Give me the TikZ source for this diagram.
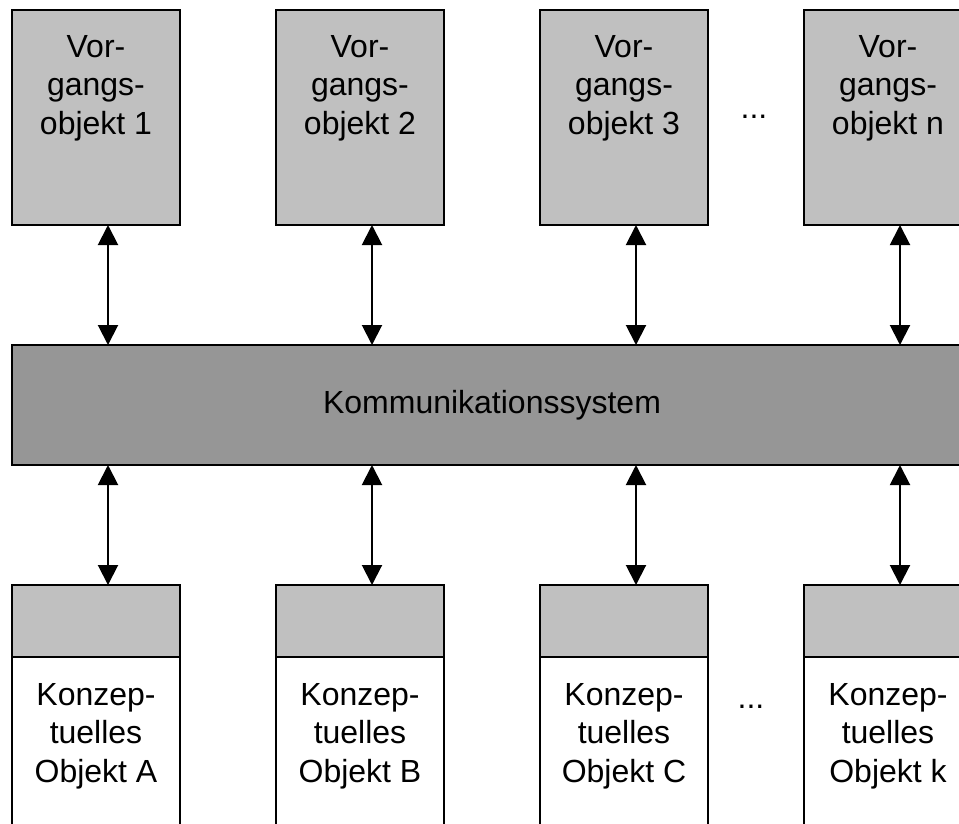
\documentclass[tikz,border=0pt]{standalone}
\usepackage{fontspec}
\setmainfont{Liberation Sans}
\usetikzlibrary{arrows.meta}
\definecolor{boxgray}{RGB}{192,192,192}
\definecolor{bargray}{RGB}{150,150,150}
\begin{document}
\begin{tikzpicture}[x=1pt,y=-1pt,
  frame/.style={draw=black,line width=2pt,inner sep=0pt,outer sep=0pt,anchor=north west},
  vorgang/.style={frame,fill=boxgray,minimum width=168pt,minimum height=215pt},
  konzept/.style={frame,fill=white,minimum width=168pt,minimum height=270pt},
  kopf/.style={frame,fill=boxgray,minimum width=168pt,minimum height=72pt},
  bus/.style={frame,fill=bargray,minimum width=960pt,minimum height=120pt},
  boxtext/.style={inner sep=0pt,align=center,font=\fontsize{32}{38.5}\selectfont},
  link/.style={line width=2pt,{Triangle[width=20pt,length=20pt]}-{Triangle[width=20pt,length=20pt]}}
]
\useasboundingbox (0,0) rectangle (959,823);
\clip (0,0) rectangle (959,823);

% process objects (top row)
\node[vorgang] (v1) at (12,10) {};
\node[vorgang] (v2) at (276,10) {};
\node[vorgang] (v3) at (540,10) {};
\node[vorgang] (v4) at (804,10) {};
\node[boxtext,anchor=north] (tv1) at (96,35) {Vor-\\gangs-\\objekt 1};
\node[boxtext,anchor=north] (tv2) at (360,35) {Vor-\\gangs-\\objekt 2};
\node[boxtext,anchor=north] (tv3) at (624,35) {Vor-\\gangs-\\objekt 3};
\node[boxtext,anchor=north] (tv4) at (888,35) {Vor-\\gangs-\\objekt n};
\node[boxtext,anchor=base] (dotsv) at (754,118) {...};

% communication bus
\node[bus] (bar) at (12,345) {};
\node[boxtext] (tbar) at (bar.center) {Kommunikationssystem};

% conceptual objects (bottom row)
\foreach \i/\x in {1/12,2/276,3/540,4/804}{
  \node[konzept] (k\i) at (\x,585) {};
  \node[kopf] (h\i) at (\x,585) {};
}
\node[boxtext,anchor=north] (tk1) at (96,683) {Konzep-\\tuelles\\Objekt A};
\node[boxtext,anchor=north] (tk2) at (360,683) {Konzep-\\tuelles\\Objekt B};
\node[boxtext,anchor=north] (tk3) at (624,683) {Konzep-\\tuelles\\Objekt C};
\node[boxtext,anchor=north] (tk4) at (888,683) {Konzep-\\tuelles\\Objekt k};
\node[boxtext,anchor=base] (dotsk) at (751,708) {...};

% connector columns
\coordinate (a1) at (108,0);
\coordinate (a2) at (372,0);
\coordinate (a3) at (636,0);
\coordinate (a4) at (900,0);
\foreach \i in {1,2,3,4}{
  \draw[link] (v\i.south -| a\i) -- (bar.north -| a\i);
  \draw[link] (bar.south -| a\i) -- (h\i.north -| a\i);
}
\end{tikzpicture}
\end{document}
